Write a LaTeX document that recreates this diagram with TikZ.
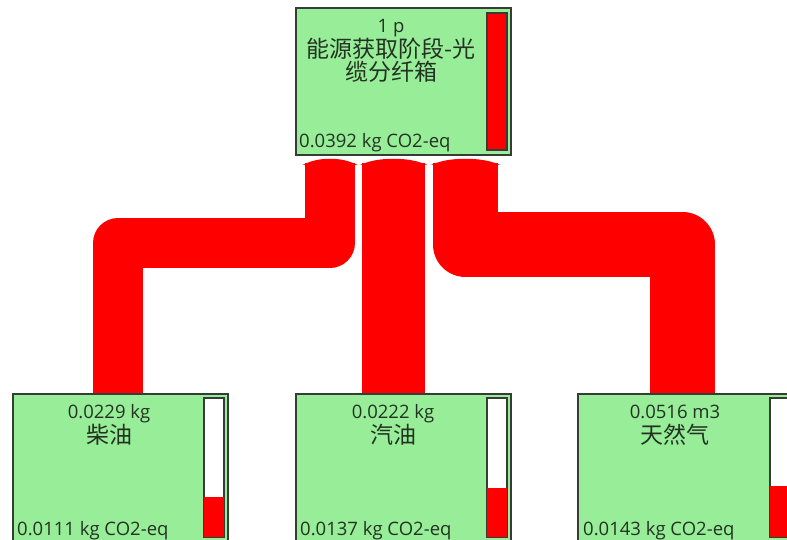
\documentclass[tikz,border=0pt]{standalone}
\usepackage{fontspec}
\setmainfont{Open Sans}
\newfontfamily\cjk{Noto Sans CJK SC}
\usetikzlibrary{calc}
\definecolor{boxgreen}{RGB}{152,238,152}
\definecolor{edgegray}{RGB}{55,60,55}
\definecolor{txtcol}{RGB}{35,50,35}
\definecolor{flowred}{RGB}{255,0,0}
\begin{document}
\begin{tikzpicture}[x=1pt,y=-1pt,
  box/.style={draw=edgegray, line width=1.3pt, fill=boxgreen, rectangle, inner sep=0pt,
    minimum width=215pt, minimum height=147pt},
  gauge/.style={draw=edgegray, line width=1.3pt, fill=white, rectangle, inner sep=0pt,
    minimum width=20pt, minimum height=138pt},
  gaugeline/.style={draw=edgegray, line width=1.3pt},
  lbl/.style={inner sep=0pt, text=txtcol, font=\fontsize{18.5}{22}\selectfont},
  cjklbl/.style={inner sep=0pt, text=txtcol, font=\cjk\fontsize{23}{27}\selectfont},
  flow/.style={draw=flowred, line join=round, line cap=butt},
  flowcap/.style={fill=flowred}
]
\useasboundingbox (0,0) rectangle (787,540);

% flow connectors
\coordinate (f1s) at (330,163);
\coordinate (f1e) at (118,394.5);
\coordinate (f2s) at (393.5,163);
\coordinate (f2e) at (393.5,394.5);
\coordinate (f3s) at (465.5,163);
\coordinate (f3e) at (682.5,394.5);
\draw[flow, line width=50pt] (f1s) -- ($(f1s)+(0,80)$) -| (f1e);
\draw[flow, line width=63pt] (f2s) -- (f2e);
\draw[flow, line width=65pt] (f3s) -- ($(f3s)+(0,81.5)$) -| (f3e);
\fill[flowcap] ($(f1s)+(-28,2)$) -- ($(f1s)+(-25,1)$) .. controls ($(f1s)+(-12,-6)$) and ($(f1s)+(12,-6)$) .. ($(f1s)+(25,1)$) -- ($(f1s)+(28,2)$) -- cycle;
\fill[flowcap] ($(f2s)+(-34,2)$) -- ($(f2s)+(-31,1)$) .. controls ($(f2s)+(-15,-6)$) and ($(f2s)+(15,-6)$) .. ($(f2s)+(31,1)$) -- ($(f2s)+(34,2)$) -- cycle;
\fill[flowcap] ($(f3s)+(-35,2)$) -- ($(f3s)+(-32,1)$) .. controls ($(f3s)+(-16,-6)$) and ($(f3s)+(16,-6)$) .. ($(f3s)+(32,1)$) -- ($(f3s)+(35,2)$) -- cycle;

% top box
\node[box] (top) at (403.5,81.5) {};
\node[gauge, fill=flowred, minimum height=137pt] (gtop) at (497,81.5) {};
\node[lbl, anchor=base] (ttop1) at (391,33) {1 p};
\node[cjklbl, anchor=base] (ttop2) at (391,57.5) {能源获取阶段-光};
\node[cjklbl, anchor=base] (ttop3) at (391,81) {缆分纤箱};
\node[lbl, anchor=base west] (ttop4) at (299,148) {0.0392 kg CO2-eq};

% box 1
\node[box] (b1) at (120.5,467.5) {};
\node[gauge] (g1) at (214,467.5) {};
\fill[flowred] (g1.south west) rectangle ($(g1.south east)+(0,-40)$);
\draw[gaugeline] (g1.south west) rectangle (g1.north east);
\node[lbl, anchor=base] (t1a) at (109,418) {0.0229 kg};
\node[cjklbl, anchor=base] (t1b) at (109,443.5) {柴油};
\node[lbl, anchor=base west] (t1c) at (17,535) {0.0111 kg CO2-eq};

% box 2
\node[box] (b2) at (403.5,467.5) {};
\node[gauge] (g2) at (497,467.5) {};
\fill[flowred] (g2.south west) rectangle ($(g2.south east)+(0,-49)$);
\draw[gaugeline] (g2.south west) rectangle (g2.north east);
\node[lbl, anchor=base] (t2a) at (393,418) {0.0222 kg};
\node[cjklbl, anchor=base] (t2b) at (393,443.5) {汽油};
\node[lbl, anchor=base west] (t2c) at (300,535) {0.0137 kg CO2-eq};

% box 3
\node[box] (b3) at (685.5,467.5) {};
\node[gauge] (g3) at (780,467.5) {};
\fill[flowred] (g3.south west) rectangle ($(g3.south east)+(0,-51)$);
\draw[gaugeline] (g3.south west) rectangle (g3.north east);
\node[lbl, anchor=base] (t3a) at (675,418) {0.0516 m3};
\node[cjklbl, anchor=base] (t3b) at (675,443.5) {天然气};
\node[lbl, anchor=base west] (t3c) at (583,535) {0.0143 kg CO2-eq};
\end{tikzpicture}
\end{document}
